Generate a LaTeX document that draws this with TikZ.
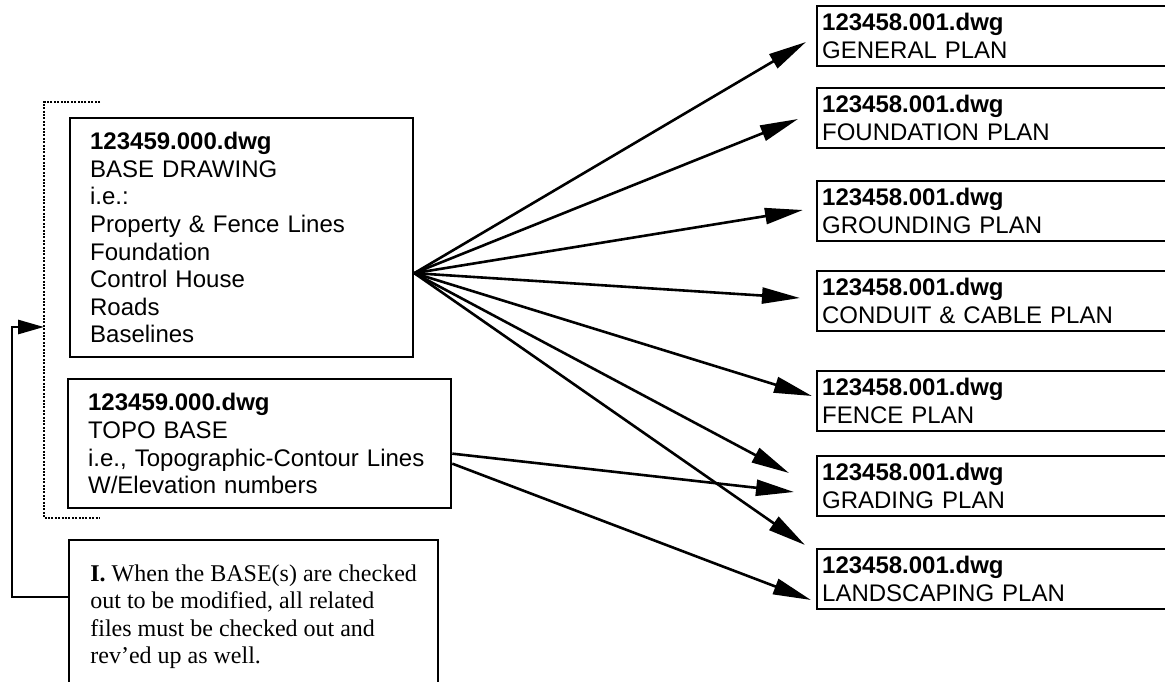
\documentclass[tikz,border=0pt]{standalone}
\usepackage{fontspec}
\setmainfont{Liberation Serif}
\newfontfamily\arialf{Liberation Sans}
\usetikzlibrary{arrows.meta,calc}
\begin{document}
\begin{tikzpicture}[x=1pt,y=-1pt,
  box/.style={draw,line width=2.3pt,rectangle,anchor=north west,align=left,
    inner ysep=0pt,font=\arialf\fontsize{24}{27.6}\selectfont},
  leftbox/.style={box,inner xsep=20pt},
  planbox/.style={box,inner xsep=5pt,text width=354pt,minimum height=60pt},
  notebox/.style={draw,line width=2.3pt,rectangle,anchor=north west,align=left,
    inner xsep=0pt,inner ysep=0pt,minimum width=369pt,minimum height=153pt,
    font=\fontsize{24}{27.6}\selectfont},
  conn/.style={line width=2.6pt,-{Triangle[length=38pt,width=16pt]}},
  fback/.style={line width=2.8pt,-{Triangle[length=26pt,width=14pt]}},
  bracket/.style={line width=2.8pt,dash pattern=on 2pt off 1.4pt}]
\useasboundingbox (0,0) rectangle (1165,682);
\clip (0,0) rectangle (1165,682);
\fill[white] (0,0) rectangle (1165,682);

% left boxes
\node[leftbox,text width=303pt,minimum height=239pt] (base) at (69,117)
  {\textbf{123459.000.dwg}\\BASE DRAWING\\i.e.:\\Property \& Fence Lines\\Foundation\\Control House\\Roads\\Baselines};
\node[leftbox,text width=343pt,minimum height=129pt] (topo) at (67,378)
  {\textbf{123459.000.dwg}\\TOPO BASE\\i.e., Topographic-Contour Lines\\W/Elevation numbers};
\node[notebox] (note) at (68,539)
  {\textbf{I.} When the BASE(s) are checked\\out to be modified, all related\\files must be checked out and\\rev’ed up as well.};

% right boxes
\node[planbox] (gen) at (816,5) {\textbf{123458.001.dwg}\\GENERAL PLAN};
\node[planbox] (fnd) at (816,87) {\textbf{123458.001.dwg}\\FOUNDATION PLAN};
\node[planbox] (grd) at (816,180) {\textbf{123458.001.dwg}\\GROUNDING PLAN};
\node[planbox] (cnd) at (816,270) {\textbf{123458.001.dwg}\\CONDUIT \& CABLE PLAN};
\node[planbox] (fen) at (816,370) {\textbf{123458.001.dwg}\\FENCE PLAN};
\node[planbox] (grad) at (816,455) {\textbf{123458.001.dwg}\\GRADING PLAN};
\node[planbox] (lnd) at (816,548) {\textbf{123458.001.dwg}\\LANDSCAPING PLAN};

% connector ends
\coordinate (o) at ([yshift=-35.5pt]base.east);
\coordinate (s1) at ([yshift=-10pt]topo.east);
\coordinate (s2) at ([yshift=-20pt]topo.east);
\coordinate (tgen) at (806,42);
\coordinate (tfnd) at (798,119);
\coordinate (tgrd) at (803,210);
\coordinate (tcnd) at (800,298);
\coordinate (tfen) at (812,396);
\coordinate (tgrad1) at (789,473);
\coordinate (tlnd1) at (805,545);
\coordinate (tgrad2) at (794,492);
\coordinate (tlnd2) at (811,600);
\coordinate (fb) at (44,327);

\draw[conn] (o) -- (tgen);
\draw[conn] (o) -- (tfnd);
\draw[conn] (o) -- (tgrd);
\draw[conn] (o) -- (tcnd);
\draw[conn] (o) -- (tfen);
\draw[conn] (o) -- (tgrad1);
\draw[conn] (o) -- (tlnd1);
\draw[conn] (s1) -- (tgrad2);
\draw[conn] (s2) -- (tlnd2);

% dotted bracket
\draw[bracket] (100,102) -| (44,518) -- (100,518);

% feedback arrow
\draw[fback] ([yshift=-58pt]note.north west) -- ++(-56,0) |- (fb);
\end{tikzpicture}
\end{document}
